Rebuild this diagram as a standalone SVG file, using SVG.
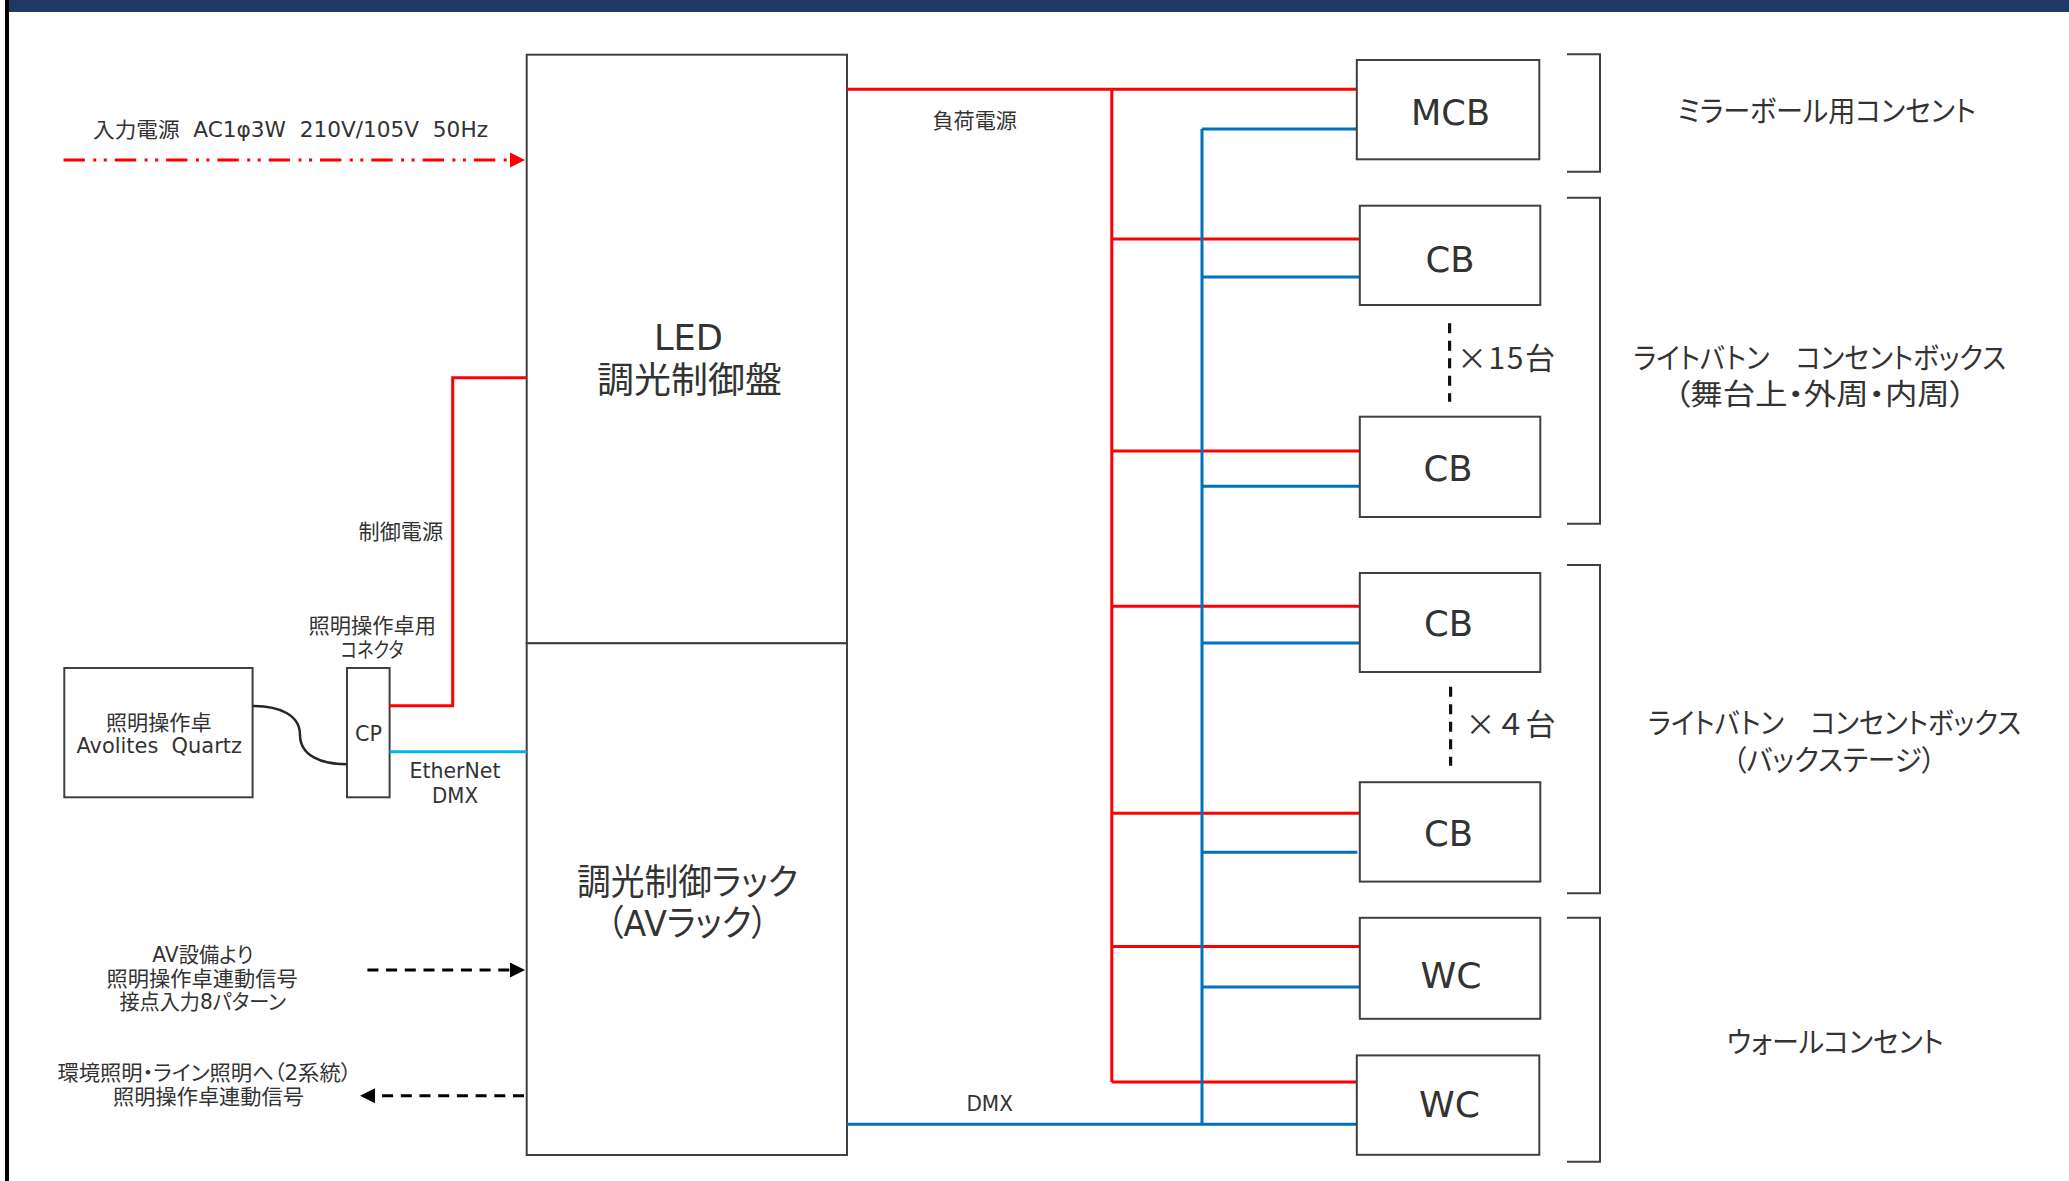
<svg xmlns="http://www.w3.org/2000/svg" width="2069" height="1181" viewBox="0 0 2069 1181">
<defs>
<style>
text{font-family:"DejaVu Sans","Noto Sans CJK JP","Noto Sans",sans-serif;fill:#333;white-space:pre;font-feature-settings:"palt" 1}
.s{font-size:21px}
.m{font-size:29px}
.l{font-size:36px}
.c{font-size:35px}
.n{font-family:"Noto Sans CJK JP","Noto Sans",sans-serif;font-size:30px;font-feature-settings:normal}
.box{fill:#fff;stroke:#404040;stroke-width:2}
.br{fill:none;stroke:#404040;stroke-width:2}
.red{fill:none;stroke:#f00;stroke-width:3}
.blue{fill:none;stroke:#0070c0;stroke-width:3}
.cyan{fill:none;stroke:#00b0f0;stroke-width:3}
.dash{fill:none;stroke:#000;stroke-width:3;stroke-dasharray:11 7.7}
.vd{fill:none;stroke:#111;stroke-width:3.2;stroke-dasharray:10 7.5}
</style>
<marker id="ar" markerUnits="userSpaceOnUse" markerWidth="15" markerHeight="15" refX="0" refY="7.5" orient="auto"><path d="M0 0L15 7.5L0 15z" fill="#f00"/></marker>
<marker id="ak" markerUnits="userSpaceOnUse" markerWidth="15" markerHeight="15" refX="0" refY="7.5" orient="auto"><path d="M0 0L15 7.5L0 15z" fill="#000"/></marker>
</defs>
<rect width="2069" height="1181" fill="#fff"/>
<rect x="9" y="0" width="2060" height="12" fill="#1f3864"/>
<rect x="5" y="0" width="4" height="1181" fill="#000"/>

<g id="led-panel"><rect class="box" x="526.7" y="54.7" width="320.3" height="588.6"/>
<text class="l" x="654" y="350" textLength="69" lengthAdjust="spacingAndGlyphs">LED</text>
<text class="l" x="597" y="393" textLength="185" lengthAdjust="spacingAndGlyphs">調光制御盤</text></g>
<g id="av-rack"><rect class="box" x="526.7" y="643.3" width="320.3" height="511.7"/>
<text class="l" x="577" y="895" textLength="221" lengthAdjust="spacingAndGlyphs">調光制御ラック</text>
<text class="l" x="607" y="936" textLength="161" lengthAdjust="spacingAndGlyphs">（AVラック）</text></g>
<g id="console"><rect class="box" x="64.3" y="668" width="188.3" height="129.3"/>
<text class="s" x="106" y="730" textLength="105.6" lengthAdjust="spacingAndGlyphs">照明操作卓</text>
<text class="s" x="76.5" y="753.3" textLength="165.4" lengthAdjust="spacingAndGlyphs">Avolites  Quartz</text></g>
<g id="cp"><rect class="box" x="347" y="668" width="42.6" height="129.3"/>
<text class="s" x="355" y="740.7" textLength="27" lengthAdjust="spacingAndGlyphs">CP</text></g>

<g id="connectors">
<path class="dash" d="M367.4 970H510" marker-end="url(#ak)"/>
<path class="dash" d="M524 1095.7H375" marker-end="url(#ak)"/>
<path d="M63.5 160H510" fill="none" stroke="#f00" stroke-width="3" stroke-dasharray="21.4 8.4 3 7.5 3 8" marker-end="url(#ar)"/>
<path d="M252.6 706C280 706 300 715 300 735C300 755 320 764.3 347 764.3" fill="none" stroke="#262626" stroke-width="2.5"/>
<path class="red" d="M389.6 705.7H452.7V377.7H526.7"/>
<path class="cyan" d="M389.6 751.7H526.7"/>
<path class="red" d="M847 89.3H1356.8M1111.8 89.3V1082M1111.8 239H1359.8M1111.8 451H1359.8M1111.8 606.3H1359.8M1111.8 813.2H1359.8M1111.8 946.4H1359.8M1111.8 1082H1356.8"/>
<path class="blue" d="M847 1124.3H1356.8M1202 129V1124.3M1202 129H1356.8M1202 277H1359.8M1202 486.3H1359.8M1202 643H1359.8M1202 852.2H1357.4M1202 987H1359.8"/>
<path class="vd" d="M1449.6 323.3V401.7"/>
<path class="vd" d="M1450.6 686.7V765.7"/>
</g>

<g id="mcb"><rect class="box" x="1356.8" y="60" width="182.5" height="99.3"/><text class="c" x="1411" y="125.3" textLength="79" lengthAdjust="spacingAndGlyphs">MCB</text></g>
<g id="cb1"><rect class="box" x="1359.8" y="205.7" width="180.5" height="99.3"/><text class="c" x="1425.5" y="271.7" textLength="49" lengthAdjust="spacingAndGlyphs">CB</text></g>
<g id="cb2"><rect class="box" x="1359.8" y="416.7" width="180.5" height="100.3"/><text class="c" x="1423.5" y="481" textLength="49" lengthAdjust="spacingAndGlyphs">CB</text></g>
<g id="cb3"><rect class="box" x="1359.8" y="573" width="180.5" height="99"/><text class="c" x="1424" y="636.3" textLength="49" lengthAdjust="spacingAndGlyphs">CB</text></g>
<g id="cb4"><rect class="box" x="1359.8" y="782.2" width="180.5" height="99.4"/><text class="c" x="1424" y="846" textLength="49" lengthAdjust="spacingAndGlyphs">CB</text></g>
<g id="wc1"><rect class="box" x="1359.8" y="917.8" width="180.5" height="101"/><text class="c" x="1420.5" y="988.4" textLength="61" lengthAdjust="spacingAndGlyphs">WC</text></g>
<g id="wc2"><rect class="box" x="1356.8" y="1055.4" width="182.5" height="99.4"/><text class="c" x="1419" y="1117" textLength="61" lengthAdjust="spacingAndGlyphs">WC</text></g>

<g id="brackets">
<path class="br" d="M1567 54.3H1600V171.7H1567"/>
<path class="br" d="M1567 197.7H1600V523.7H1567"/>
<path class="br" d="M1567 564.9H1600V893.3H1567"/>
<path class="br" d="M1567 917.8H1600V1161.7H1567"/>
</g>

<g id="labels">
<text class="s" x="93" y="137.3" textLength="395" lengthAdjust="spacingAndGlyphs">入力電源  AC1φ3W  210V/105V  50Hz</text>
<text class="s" x="932.5" y="127.7" textLength="84.5" lengthAdjust="spacingAndGlyphs">負荷電源</text>
<text class="s" x="966.4" y="1110.7" textLength="46.5" lengthAdjust="spacingAndGlyphs">DMX</text>
<text class="s" x="358.6" y="539.3" textLength="84.4" lengthAdjust="spacingAndGlyphs">制御電源</text>
<text class="s" x="308.5" y="633" textLength="127.5" lengthAdjust="spacingAndGlyphs">照明操作卓用</text>
<text class="s" x="340.6" y="657" textLength="63" lengthAdjust="spacingAndGlyphs">コネクタ</text>
<text class="s" x="409.5" y="778.3" textLength="91" lengthAdjust="spacingAndGlyphs">EtherNet</text>
<text class="s" x="432" y="802.7" textLength="46" lengthAdjust="spacingAndGlyphs">DMX</text>
<text class="s" x="152.3" y="961.7" textLength="101" lengthAdjust="spacingAndGlyphs">AV設備より</text>
<text class="s" x="106.4" y="986" textLength="191.3" lengthAdjust="spacingAndGlyphs">照明操作卓連動信号</text>
<text class="s" x="119.4" y="1009" textLength="166.6" lengthAdjust="spacingAndGlyphs">接点入力8パターン</text>
<text class="s" x="57.4" y="1080" textLength="294" lengthAdjust="spacingAndGlyphs">環境照明・ライン照明へ（2系統）</text>
<text class="s" x="113" y="1104" textLength="191" lengthAdjust="spacingAndGlyphs">照明操作卓連動信号</text>
<text class="n" x="1457" y="369" textLength="98" lengthAdjust="spacing">×15台</text>
<text class="n" x="1465.5" y="735">×４台</text>
<text class="m" x="1677.6" y="121.7" textLength="298.2" lengthAdjust="spacingAndGlyphs">ミラーボール用コンセント</text>
<text class="m" x="1633.5" y="369" textLength="372.5" lengthAdjust="spacingAndGlyphs">ライトバトン　コンセントボックス</text>
<text class="m" x="1674" y="405" textLength="292" lengthAdjust="spacingAndGlyphs">（舞台上・外周・内周）</text>
<text class="m" x="1648" y="734.3" textLength="373" lengthAdjust="spacingAndGlyphs">ライトバトン　コンセントボックス</text>
<text class="m" x="1732.5" y="771" textLength="203" lengthAdjust="spacingAndGlyphs">（バックステージ）</text>
<text class="m" x="1726.7" y="1053" textLength="216.8" lengthAdjust="spacingAndGlyphs">ウォールコンセント</text>
</g>
</svg>
